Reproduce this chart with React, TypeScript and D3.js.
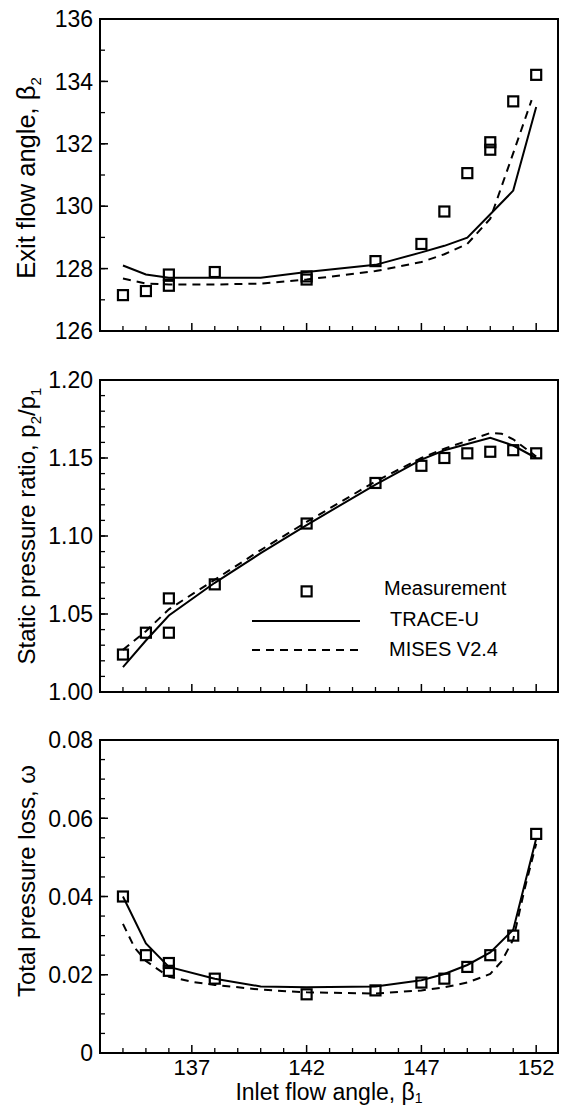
import React from 'react';
import * as d3 from 'd3';

// ---------- data ----------
// Top panel: exit flow angle
const exitMeasX = [134, 135, 136, 136, 138, 142, 142, 145, 147, 148, 149, 150, 150, 151, 152];
const exitMeasY = [127.15, 127.28, 127.81, 127.45, 127.89, 127.75, 127.65, 128.24, 128.79, 129.83, 131.06, 132.05, 131.81, 133.36, 134.21];
const exitTraceX = [134, 135, 136, 140, 142, 145, 147, 148, 149, 150, 151, 152];
const exitTraceY = [128.1, 127.81, 127.71, 127.71, 127.89, 128.12, 128.52, 128.73, 128.99, 129.74, 130.5, 133.18];
const exitMisesX = [134, 135, 136, 138, 140, 142, 145, 147, 148, 149, 150, 151, 151.8];
const exitMisesY = [127.68, 127.52, 127.49, 127.49, 127.52, 127.65, 127.92, 128.21, 128.46, 128.79, 129.6, 131.7, 133.4];

// Middle panel: static pressure ratio
const presMeasX = [134, 135, 136, 136, 138, 142, 145, 147, 148, 149, 150, 151, 152];
const presMeasY = [1.024, 1.038, 1.06, 1.038, 1.069, 1.108, 1.134, 1.145, 1.15, 1.153, 1.154, 1.155, 1.153];
const presTraceX = [134, 135, 136, 138, 140, 142, 145, 147, 148, 149, 150, 151, 152];
const presTraceY = [1.016, 1.033, 1.049, 1.07, 1.089, 1.107, 1.133, 1.149, 1.155, 1.159, 1.163, 1.158, 1.15];
const presMisesX = [134, 135, 136, 138, 140, 142, 145, 147, 148, 149, 150, 150.5, 151, 152];
const presMisesY = [1.027, 1.039, 1.053, 1.072, 1.091, 1.109, 1.135, 1.15, 1.156, 1.161, 1.166, 1.1655, 1.162, 1.151];

// Bottom panel: total pressure loss
const lossMeasX = [134, 135, 136, 136, 138, 142, 145, 147, 148, 149, 150, 151, 152];
const lossMeasY = [0.04, 0.025, 0.023, 0.021, 0.019, 0.015, 0.016, 0.018, 0.019, 0.022, 0.025, 0.03, 0.056];
const lossTraceX = [134, 135, 136, 138, 140, 142, 145, 147, 148, 149, 150, 151, 152];
const lossTraceY = [0.04, 0.028, 0.022, 0.019, 0.017, 0.0168, 0.017, 0.0186, 0.0202, 0.0225, 0.0257, 0.0315, 0.0548];
const lossMisesX = [134, 134.5, 135, 136, 137, 138, 140, 142, 145, 147, 148, 149, 150, 150.5, 151, 151.5, 152];
const lossMisesY = [0.033, 0.027, 0.0235, 0.0195, 0.0182, 0.0174, 0.0162, 0.0155, 0.0152, 0.016, 0.0168, 0.018, 0.0202, 0.0235, 0.029, 0.042, 0.0535];

const xMajorTicks = [137, 142, 147, 152];
const xMinorTicks = [134, 135, 136, 138, 139, 140, 141, 143, 144, 145, 146, 148, 149, 150, 151];

const exitTicks = [126, 128, 130, 132, 134, 136];
const presTicks = [1.0, 1.05, 1.1, 1.15, 1.2];
const lossTicks = [0, 0.02, 0.04, 0.06, 0.08];

const legendLabels = ['Measurement', 'TRACE-U', 'MISES V2.4'];

// ---------- layout ----------
const W = 566;
const H = 1107;
const L = 100;
const R = 558;
const FONT = '"Liberation Sans", Arial, Helvetica, sans-serif';

const x = d3.scaleLinear().domain([133, 152.95]).range([L, R]);

type Panel = {
  top: number;
  bottom: number;
  domain: [number, number];
  ticks: number[];
  minorStep: number;
  fmt: (v: number) => string;
  parts: [string, string][];
  titleSize: number;
  titleCenter: number;
  meas: [number[], number[]];
  trace: [number[], number[]];
  mises: [number[], number[]];
};

const panels: Panel[] = [
  {
    top: 19,
    bottom: 331,
    domain: [126, 136],
    ticks: exitTicks,
    minorStep: 1,
    fmt: (v) => d3.format('d')(v),
    parts: [['Exit flow angle, β', ''], ['2', 'sub']],
    titleSize: 25.5,
    titleCenter: 178,
    meas: [exitMeasX, exitMeasY],
    trace: [exitTraceX, exitTraceY],
    mises: [exitMisesX, exitMisesY],
  },
  {
    top: 380,
    bottom: 692,
    domain: [1.0, 1.2],
    ticks: presTicks,
    minorStep: 0.01,
    fmt: (v) => d3.format('.2f')(v),
    parts: [
      ['Static pressure ratio, p', ''],
      ['2', 'sub'],
      ['/p', ''],
      ['1', 'sub'],
    ],
    titleSize: 24,
    titleCenter: 526,
    meas: [presMeasX, presMeasY],
    trace: [presTraceX, presTraceY],
    mises: [presMisesX, presMisesY],
  },
  {
    top: 740,
    bottom: 1053,
    domain: [0, 0.08],
    ticks: lossTicks,
    minorStep: 0.005,
    fmt: (v) => (v === 0 ? '0' : d3.format('.2f')(v)),
    parts: [['Total pressure loss, ω', '']],
    titleSize: 24,
    titleCenter: 881,
    meas: [lossMeasX, lossMeasY],
    trace: [lossTraceX, lossTraceY],
    mises: [lossMisesX, lossMisesY],
  },
];

const SQ = 10;

function TitleText({ parts, size, sub, shift }: { parts: [string, string][]; size: number; sub: number; shift: number }) {
  let shifted = false;
  return (
    <>
      {parts.map(([t, kind], i) => {
        let dy = 0;
        if (kind === 'sub' && !shifted) {
          dy = shift;
          shifted = true;
        } else if (kind !== 'sub' && shifted) {
          dy = -shift;
          shifted = false;
        }
        return (
          <tspan key={i} dy={dy} fontSize={kind === 'sub' ? sub : size}>
            {t}
          </tspan>
        );
      })}
    </>
  );
}

function PanelView({ p, showXLabels, legend }: { p: Panel; showXLabels: boolean; legend: boolean }) {
  const y = d3.scaleLinear().domain(p.domain).range([p.bottom, p.top]);
  const minor = d3.range(p.domain[0], p.domain[1] + p.minorStep / 2, p.minorStep);
  const line = d3
    .line<[number, number]>()
    .x((d) => x(d[0]))
    .y((d) => y(d[1]));
  const zip = (a: number[], b: number[]) => a.map((v, i) => [v, b[i]] as [number, number]);
  return (
    <g>
      {minor.map((v, i) => (
        <line key={'ym' + i} x1={L} x2={L + 5} y1={y(v)} y2={y(v)} stroke="#000" strokeWidth={1.3} />
      ))}
      {p.ticks.map((v, i) => (
        <g key={'yt' + i}>
          <line x1={L} x2={L + 8} y1={y(v)} y2={y(v)} stroke="#000" strokeWidth={1.5} />
          <text x={93} y={y(v)} dy="0.36em" textAnchor="end" fontSize={23} fontFamily={FONT}>
            {p.fmt(v)}
          </text>
        </g>
      ))}
      {xMinorTicks.map((v, i) => (
        <line key={'xm' + i} x1={x(v)} x2={x(v)} y1={p.bottom} y2={p.bottom - 5} stroke="#000" strokeWidth={1.3} />
      ))}
      {xMajorTicks.map((v, i) => (
        <g key={'xt' + i}>
          <line x1={x(v)} x2={x(v)} y1={p.bottom} y2={p.bottom - 8} stroke="#000" strokeWidth={1.5} />
          {showXLabels && (
            <text x={x(v)} y={1075} textAnchor="middle" fontSize={22} fontFamily={FONT}>
              {v}
            </text>
          )}
        </g>
      ))}
      <text
        transform={`translate(35,${p.titleCenter}) rotate(-90)`}
        textAnchor="middle"
        fontSize={p.titleSize}
        fontFamily={FONT}
      >
        <TitleText parts={p.parts} size={p.titleSize} sub={15} shift={6} />
      </text>
      <path d={line(zip(p.trace[0], p.trace[1])) || ''} fill="none" stroke="#000" strokeWidth={2} />
      <path
        d={line(zip(p.mises[0], p.mises[1])) || ''}
        fill="none"
        stroke="#000"
        strokeWidth={2}
        strokeDasharray="8,6"
      />
      {p.meas[0].map((v, i) => (
        <rect
          key={'m' + i}
          x={x(v) - SQ / 2}
          y={y(p.meas[1][i]) - SQ / 2}
          width={SQ}
          height={SQ}
          fill="none"
          stroke="#000"
          strokeWidth={2.2}
        />
      ))}
      <rect x={L} y={p.top} width={R - L} height={p.bottom - p.top} fill="none" stroke="#000" strokeWidth={2} />
      {legend && (
        <g fontFamily={FONT} fontSize={20}>
          <rect x={x(142) - SQ / 2} y={y(1.0645) - SQ / 2} width={SQ} height={SQ} fill="none" stroke="#000" strokeWidth={2.2} />
          <text x={384} y={595}>{legendLabels[0]}</text>
          <line x1={252} x2={360} y1={621} y2={621} stroke="#000" strokeWidth={2} />
          <text x={390} y={626}>{legendLabels[1]}</text>
          <line x1={252} x2={360} y1={650} y2={650} stroke="#000" strokeWidth={2} strokeDasharray="8,6" />
          <text x={389} y={656}>{legendLabels[2]}</text>
        </g>
      )}
    </g>
  );
}

export default function App() {
  return (
    <svg
      width={W}
      height={H}
      viewBox={`0 0 ${W} ${H}`}
      style={{ position: 'absolute', left: 0, top: 0, background: '#fff' }}
    >
      <rect x={0} y={0} width={W} height={H} fill="#fff" />
      {panels.map((p, i) => (
        <PanelView key={i} p={p} showXLabels={i === 2} legend={i === 1} />
      ))}
      <text x={(L + R) / 2} y={1100} textAnchor="middle" fontSize={23} fontFamily={FONT}>
        <TitleText parts={[['Inlet flow angle, β', ''], ['1', 'sub']]} size={23} sub={14} shift={3} />
      </text>
    </svg>
  );
}
